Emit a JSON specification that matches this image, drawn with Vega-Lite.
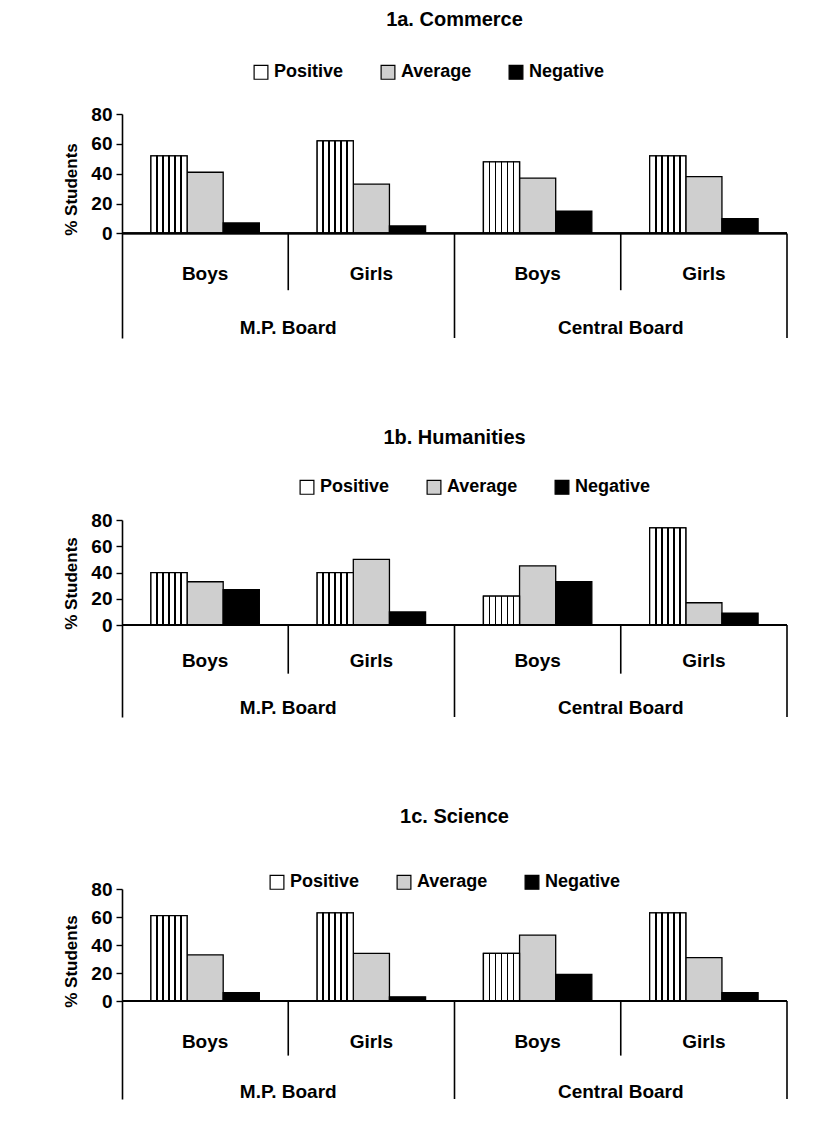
{
  "$schema": "https://vega.github.io/schema/vega-lite/v6.json",
  "background": "white",
  "padding": {"left": 62, "top": 10, "right": 10, "bottom": 5},
  "spacing": 89,
  "resolve": {"scale": {"fill": "independent"}, "legend": {"fill": "independent"}},
  "config": {
    "font": "Liberation Sans Narrow, Liberation Sans, Arial, sans-serif",
    "view": {"stroke": null},
    "axis": {
      "domainColor": "black", "domainWidth": 1.6, "tickColor": "black", "tickWidth": 1.4, "tickSize": 6,
      "labelFontSize": 19, "labelFontWeight": "bold", "labelColor": "black", "labelPadding": 4,
      "titleFontSize": 17, "titleFontWeight": "bold", "titleColor": "black", "titlePadding": 10, "grid": false
    },
    "legend": {
      "orient": "none", "direction": "horizontal", "symbolType": "square", "symbolSize": 190,
      "symbolStrokeColor": "black", "symbolStrokeWidth": 1.2, "labelFontSize": 18, "labelFontWeight": "bold",
      "labelColor": "black", "columnPadding": 34, "labelOffset": 4
    },
    "title": {"fontSize": 20, "fontWeight": "bold", "color": "black"},
    "text": {"fontSize": 19, "fontWeight": "bold", "color": "black"}
  },
  "datasets": {
    "bars": [
      {"subject": "Commerce", "group": "M.P. Board Boys", "category": "Positive", "value": 52},
      {"subject": "Commerce", "group": "M.P. Board Boys", "category": "Average", "value": 41},
      {"subject": "Commerce", "group": "M.P. Board Boys", "category": "Negative", "value": 7},
      {"subject": "Commerce", "group": "M.P. Board Girls", "category": "Positive", "value": 62},
      {"subject": "Commerce", "group": "M.P. Board Girls", "category": "Average", "value": 33},
      {"subject": "Commerce", "group": "M.P. Board Girls", "category": "Negative", "value": 5},
      {"subject": "Commerce", "group": "Central Board Boys", "category": "Positive", "value": 48},
      {"subject": "Commerce", "group": "Central Board Boys", "category": "Average", "value": 37},
      {"subject": "Commerce", "group": "Central Board Boys", "category": "Negative", "value": 15},
      {"subject": "Commerce", "group": "Central Board Girls", "category": "Positive", "value": 52},
      {"subject": "Commerce", "group": "Central Board Girls", "category": "Average", "value": 38},
      {"subject": "Commerce", "group": "Central Board Girls", "category": "Negative", "value": 10},
      {"subject": "Humanities", "group": "M.P. Board Boys", "category": "Positive", "value": 40},
      {"subject": "Humanities", "group": "M.P. Board Boys", "category": "Average", "value": 33},
      {"subject": "Humanities", "group": "M.P. Board Boys", "category": "Negative", "value": 27},
      {"subject": "Humanities", "group": "M.P. Board Girls", "category": "Positive", "value": 40},
      {"subject": "Humanities", "group": "M.P. Board Girls", "category": "Average", "value": 50},
      {"subject": "Humanities", "group": "M.P. Board Girls", "category": "Negative", "value": 10},
      {"subject": "Humanities", "group": "Central Board Boys", "category": "Positive", "value": 22},
      {"subject": "Humanities", "group": "Central Board Boys", "category": "Average", "value": 45},
      {"subject": "Humanities", "group": "Central Board Boys", "category": "Negative", "value": 33},
      {"subject": "Humanities", "group": "Central Board Girls", "category": "Positive", "value": 74},
      {"subject": "Humanities", "group": "Central Board Girls", "category": "Average", "value": 17},
      {"subject": "Humanities", "group": "Central Board Girls", "category": "Negative", "value": 9},
      {"subject": "Science", "group": "M.P. Board Boys", "category": "Positive", "value": 61},
      {"subject": "Science", "group": "M.P. Board Boys", "category": "Average", "value": 33},
      {"subject": "Science", "group": "M.P. Board Boys", "category": "Negative", "value": 6},
      {"subject": "Science", "group": "M.P. Board Girls", "category": "Positive", "value": 63},
      {"subject": "Science", "group": "M.P. Board Girls", "category": "Average", "value": 34},
      {"subject": "Science", "group": "M.P. Board Girls", "category": "Negative", "value": 3},
      {"subject": "Science", "group": "Central Board Boys", "category": "Positive", "value": 34},
      {"subject": "Science", "group": "Central Board Boys", "category": "Average", "value": 47},
      {"subject": "Science", "group": "Central Board Boys", "category": "Negative", "value": 19},
      {"subject": "Science", "group": "Central Board Girls", "category": "Positive", "value": 63},
      {"subject": "Science", "group": "Central Board Girls", "category": "Average", "value": 31},
      {"subject": "Science", "group": "Central Board Girls", "category": "Negative", "value": 6}
    ],
    "groups": [
      {"group": "M.P. Board Boys", "board": "M.P. Board", "gender": "Boys"},
      {"group": "M.P. Board Girls", "board": "M.P. Board", "gender": "Girls"},
      {"group": "Central Board Boys", "board": "Central Board", "gender": "Boys"},
      {"group": "Central Board Girls", "board": "Central Board", "gender": "Girls"}
    ]
  },
  "vconcat": [
    {
      "title": {"text": "1a. Commerce", "offset": 33},
      "width": 665, "height": 224,
      "data": {"name": "bars"},
      "transform": [{"filter": "datum.subject === 'Commerce'"}],
      "layer": [
        {
          "mark": {"type": "bar", "stroke": "black", "strokeWidth": 1.3},
          "encoding": {
            "x": {"field": "group", "type": "nominal", "sort": ["M.P. Board Boys", "M.P. Board Girls", "Central Board Boys", "Central Board Girls"], "scale": {"paddingInner": 0, "paddingOuter": 0}, "axis": null},
            "xOffset": {"field": "category", "type": "nominal", "scale": {"domain": ["Positive", "Average", "Negative"], "paddingOuter": 0.8, "paddingInner": 0}},
            "y": {"field": "value", "type": "quantitative", "scale": {"domain": [-70, 80], "nice": false}, "axis": {"values": [0, 20, 40, 60, 80], "title": "% Students", "titleY": 75}},
            "fill": {"field": "category", "type": "nominal", "scale": {"domain": ["Positive", "Average", "Negative"], "range": ["white", "#cfcfcf", "black"]}, "legend": {"title": null, "legendX": 130, "legendY": -51}}
          }
        },
        {
          "transform": [{"filter": "datum.category === 'Positive'"}],
          "mark": {"type": "bar", "stroke": "black", "strokeWidth": 1.3, "fill": {"gradient": "linear", "x1": 0, "y1": 0, "x2": 1, "y2": 0, "stops": [{"offset": 0, "color": "white"}, {"offset": 0.142, "color": "white"}, {"offset": 0.142, "color": "black"}, {"offset": 0.191, "color": "black"}, {"offset": 0.191, "color": "white"}, {"offset": 0.309, "color": "white"}, {"offset": 0.309, "color": "black"}, {"offset": 0.358, "color": "black"}, {"offset": 0.358, "color": "white"}, {"offset": 0.475, "color": "white"}, {"offset": 0.475, "color": "black"}, {"offset": 0.525, "color": "black"}, {"offset": 0.525, "color": "white"}, {"offset": 0.642, "color": "white"}, {"offset": 0.642, "color": "black"}, {"offset": 0.691, "color": "black"}, {"offset": 0.691, "color": "white"}, {"offset": 0.809, "color": "white"}, {"offset": 0.809, "color": "black"}, {"offset": 0.858, "color": "black"}, {"offset": 0.858, "color": "white"}, {"offset": 1, "color": "white"}]}},
          "encoding": {
            "x": {"field": "group", "type": "nominal", "sort": ["M.P. Board Boys", "M.P. Board Girls", "Central Board Boys", "Central Board Girls"]},
            "xOffset": {"field": "category", "type": "nominal"},
            "y": {"field": "value", "type": "quantitative"}
          }
        },
        {
          "data": {"name": "groups"},
          "mark": {"type": "rule", "color": "black", "strokeWidth": 1.8},
          "encoding": {"y": {"datum": 0, "type": "quantitative"}}
        },
        {
          "data": {"name": "groups"},
          "transform": [{"filter": "datum.gender === 'Girls'"}],
          "mark": {"type": "rule", "color": "black", "strokeWidth": 1.6},
          "encoding": {"x": {"field": "group", "type": "nominal", "sort": ["M.P. Board Boys", "M.P. Board Girls", "Central Board Boys", "Central Board Girls"], "bandPosition": 0}, "y": {"datum": 0, "type": "quantitative"}, "y2": {"datum": -38}}
        },
        {
          "data": {"name": "groups"},
          "transform": [{"filter": "datum.group === 'Central Board Boys'"}],
          "mark": {"type": "rule", "color": "black", "strokeWidth": 1.6},
          "encoding": {"x": {"field": "group", "type": "nominal", "sort": ["M.P. Board Boys", "M.P. Board Girls", "Central Board Boys", "Central Board Girls"], "bandPosition": 0}, "y": {"datum": 0, "type": "quantitative"}, "y2": {"datum": -70}}
        },
        {
          "data": {"name": "groups"},
          "transform": [{"filter": "datum.group === 'Central Board Girls'"}],
          "mark": {"type": "rule", "color": "black", "strokeWidth": 1.6},
          "encoding": {"x": {"field": "group", "type": "nominal", "sort": ["M.P. Board Boys", "M.P. Board Girls", "Central Board Boys", "Central Board Girls"], "bandPosition": 1}, "y": {"datum": 0, "type": "quantitative"}, "y2": {"datum": -70}}
        },
        {
          "data": {"name": "groups"},
          "mark": {"type": "text", "baseline": "middle"},
          "encoding": {"x": {"field": "group", "type": "nominal", "sort": ["M.P. Board Boys", "M.P. Board Girls", "Central Board Boys", "Central Board Girls"]}, "y": {"datum": -27, "type": "quantitative"}, "text": {"field": "gender"}}
        },
        {
          "data": {"name": "groups"},
          "transform": [{"filter": "datum.gender === 'Girls'"}],
          "mark": {"type": "text", "baseline": "middle"},
          "encoding": {"x": {"field": "group", "type": "nominal", "sort": ["M.P. Board Boys", "M.P. Board Girls", "Central Board Boys", "Central Board Girls"], "bandPosition": 0}, "y": {"datum": -63, "type": "quantitative"}, "text": {"field": "board"}}
        }
      ]
    },
    {
      "title": {"text": "1b. Humanities", "offset": 30},
      "width": 665, "height": 197,
      "data": {"name": "bars"},
      "transform": [{"filter": "datum.subject === 'Humanities'"}],
      "layer": [
        {
          "mark": {"type": "bar", "stroke": "black", "strokeWidth": 1.3},
          "encoding": {
            "x": {"field": "group", "type": "nominal", "sort": ["M.P. Board Boys", "M.P. Board Girls", "Central Board Boys", "Central Board Girls"], "scale": {"paddingInner": 0, "paddingOuter": 0}, "axis": null},
            "xOffset": {"field": "category", "type": "nominal", "scale": {"domain": ["Positive", "Average", "Negative"], "paddingOuter": 0.8, "paddingInner": 0}},
            "y": {"field": "value", "type": "quantitative", "scale": {"domain": [-70, 80], "nice": false}, "axis": {"values": [0, 20, 40, 60, 80], "title": "% Students", "titleY": 63}},
            "fill": {"field": "category", "type": "nominal", "scale": {"domain": ["Positive", "Average", "Negative"], "range": ["white", "#cfcfcf", "black"]}, "legend": {"title": null, "legendX": 176, "legendY": -42}}
          }
        },
        {
          "transform": [{"filter": "datum.category === 'Positive'"}],
          "mark": {"type": "bar", "stroke": "black", "strokeWidth": 1.3, "fill": {"gradient": "linear", "x1": 0, "y1": 0, "x2": 1, "y2": 0, "stops": [{"offset": 0, "color": "white"}, {"offset": 0.142, "color": "white"}, {"offset": 0.142, "color": "black"}, {"offset": 0.191, "color": "black"}, {"offset": 0.191, "color": "white"}, {"offset": 0.309, "color": "white"}, {"offset": 0.309, "color": "black"}, {"offset": 0.358, "color": "black"}, {"offset": 0.358, "color": "white"}, {"offset": 0.475, "color": "white"}, {"offset": 0.475, "color": "black"}, {"offset": 0.525, "color": "black"}, {"offset": 0.525, "color": "white"}, {"offset": 0.642, "color": "white"}, {"offset": 0.642, "color": "black"}, {"offset": 0.691, "color": "black"}, {"offset": 0.691, "color": "white"}, {"offset": 0.809, "color": "white"}, {"offset": 0.809, "color": "black"}, {"offset": 0.858, "color": "black"}, {"offset": 0.858, "color": "white"}, {"offset": 1, "color": "white"}]}},
          "encoding": {
            "x": {"field": "group", "type": "nominal", "sort": ["M.P. Board Boys", "M.P. Board Girls", "Central Board Boys", "Central Board Girls"]},
            "xOffset": {"field": "category", "type": "nominal"},
            "y": {"field": "value", "type": "quantitative"}
          }
        },
        {
          "data": {"name": "groups"},
          "mark": {"type": "rule", "color": "black", "strokeWidth": 1.8},
          "encoding": {"y": {"datum": 0, "type": "quantitative"}}
        },
        {
          "data": {"name": "groups"},
          "transform": [{"filter": "datum.gender === 'Girls'"}],
          "mark": {"type": "rule", "color": "black", "strokeWidth": 1.6},
          "encoding": {"x": {"field": "group", "type": "nominal", "sort": ["M.P. Board Boys", "M.P. Board Girls", "Central Board Boys", "Central Board Girls"], "bandPosition": 0}, "y": {"datum": 0, "type": "quantitative"}, "y2": {"datum": -37}}
        },
        {
          "data": {"name": "groups"},
          "transform": [{"filter": "datum.group === 'Central Board Boys'"}],
          "mark": {"type": "rule", "color": "black", "strokeWidth": 1.6},
          "encoding": {"x": {"field": "group", "type": "nominal", "sort": ["M.P. Board Boys", "M.P. Board Girls", "Central Board Boys", "Central Board Girls"], "bandPosition": 0}, "y": {"datum": 0, "type": "quantitative"}, "y2": {"datum": -70}}
        },
        {
          "data": {"name": "groups"},
          "transform": [{"filter": "datum.group === 'Central Board Girls'"}],
          "mark": {"type": "rule", "color": "black", "strokeWidth": 1.6},
          "encoding": {"x": {"field": "group", "type": "nominal", "sort": ["M.P. Board Boys", "M.P. Board Girls", "Central Board Boys", "Central Board Girls"], "bandPosition": 1}, "y": {"datum": 0, "type": "quantitative"}, "y2": {"datum": -70}}
        },
        {
          "data": {"name": "groups"},
          "mark": {"type": "text", "baseline": "middle"},
          "encoding": {"x": {"field": "group", "type": "nominal", "sort": ["M.P. Board Boys", "M.P. Board Girls", "Central Board Boys", "Central Board Girls"]}, "y": {"datum": -27, "type": "quantitative"}, "text": {"field": "gender"}}
        },
        {
          "data": {"name": "groups"},
          "transform": [{"filter": "datum.gender === 'Girls'"}],
          "mark": {"type": "text", "baseline": "middle"},
          "encoding": {"x": {"field": "group", "type": "nominal", "sort": ["M.P. Board Boys", "M.P. Board Girls", "Central Board Boys", "Central Board Girls"], "bandPosition": 0}, "y": {"datum": -63, "type": "quantitative"}, "text": {"field": "board"}}
        }
      ]
    },
    {
      "title": {"text": "1c. Science", "offset": 46},
      "width": 665, "height": 210,
      "data": {"name": "bars"},
      "transform": [{"filter": "datum.subject === 'Science'"}],
      "layer": [
        {
          "mark": {"type": "bar", "stroke": "black", "strokeWidth": 1.3},
          "encoding": {
            "x": {"field": "group", "type": "nominal", "sort": ["M.P. Board Boys", "M.P. Board Girls", "Central Board Boys", "Central Board Girls"], "scale": {"paddingInner": 0, "paddingOuter": 0}, "axis": null},
            "xOffset": {"field": "category", "type": "nominal", "scale": {"domain": ["Positive", "Average", "Negative"], "paddingOuter": 0.8, "paddingInner": 0}},
            "y": {"field": "value", "type": "quantitative", "scale": {"domain": [-70, 80], "nice": false}, "axis": {"values": [0, 20, 40, 60, 80], "title": "% Students", "titleY": 72}},
            "fill": {"field": "category", "type": "nominal", "scale": {"domain": ["Positive", "Average", "Negative"], "range": ["white", "#cfcfcf", "black"]}, "legend": {"title": null, "legendX": 146, "legendY": -16}}
          }
        },
        {
          "transform": [{"filter": "datum.category === 'Positive'"}],
          "mark": {"type": "bar", "stroke": "black", "strokeWidth": 1.3, "fill": {"gradient": "linear", "x1": 0, "y1": 0, "x2": 1, "y2": 0, "stops": [{"offset": 0, "color": "white"}, {"offset": 0.142, "color": "white"}, {"offset": 0.142, "color": "black"}, {"offset": 0.191, "color": "black"}, {"offset": 0.191, "color": "white"}, {"offset": 0.309, "color": "white"}, {"offset": 0.309, "color": "black"}, {"offset": 0.358, "color": "black"}, {"offset": 0.358, "color": "white"}, {"offset": 0.475, "color": "white"}, {"offset": 0.475, "color": "black"}, {"offset": 0.525, "color": "black"}, {"offset": 0.525, "color": "white"}, {"offset": 0.642, "color": "white"}, {"offset": 0.642, "color": "black"}, {"offset": 0.691, "color": "black"}, {"offset": 0.691, "color": "white"}, {"offset": 0.809, "color": "white"}, {"offset": 0.809, "color": "black"}, {"offset": 0.858, "color": "black"}, {"offset": 0.858, "color": "white"}, {"offset": 1, "color": "white"}]}},
          "encoding": {
            "x": {"field": "group", "type": "nominal", "sort": ["M.P. Board Boys", "M.P. Board Girls", "Central Board Boys", "Central Board Girls"]},
            "xOffset": {"field": "category", "type": "nominal"},
            "y": {"field": "value", "type": "quantitative"}
          }
        },
        {
          "data": {"name": "groups"},
          "mark": {"type": "rule", "color": "black", "strokeWidth": 1.8},
          "encoding": {"y": {"datum": 0, "type": "quantitative"}}
        },
        {
          "data": {"name": "groups"},
          "transform": [{"filter": "datum.gender === 'Girls'"}],
          "mark": {"type": "rule", "color": "black", "strokeWidth": 1.6},
          "encoding": {"x": {"field": "group", "type": "nominal", "sort": ["M.P. Board Boys", "M.P. Board Girls", "Central Board Boys", "Central Board Girls"], "bandPosition": 0}, "y": {"datum": 0, "type": "quantitative"}, "y2": {"datum": -39}}
        },
        {
          "data": {"name": "groups"},
          "transform": [{"filter": "datum.group === 'Central Board Boys'"}],
          "mark": {"type": "rule", "color": "black", "strokeWidth": 1.6},
          "encoding": {"x": {"field": "group", "type": "nominal", "sort": ["M.P. Board Boys", "M.P. Board Girls", "Central Board Boys", "Central Board Girls"], "bandPosition": 0}, "y": {"datum": 0, "type": "quantitative"}, "y2": {"datum": -70}}
        },
        {
          "data": {"name": "groups"},
          "transform": [{"filter": "datum.group === 'Central Board Girls'"}],
          "mark": {"type": "rule", "color": "black", "strokeWidth": 1.6},
          "encoding": {"x": {"field": "group", "type": "nominal", "sort": ["M.P. Board Boys", "M.P. Board Girls", "Central Board Boys", "Central Board Girls"], "bandPosition": 1}, "y": {"datum": 0, "type": "quantitative"}, "y2": {"datum": -70}}
        },
        {
          "data": {"name": "groups"},
          "mark": {"type": "text", "baseline": "middle"},
          "encoding": {"x": {"field": "group", "type": "nominal", "sort": ["M.P. Board Boys", "M.P. Board Girls", "Central Board Boys", "Central Board Girls"]}, "y": {"datum": -29, "type": "quantitative"}, "text": {"field": "gender"}}
        },
        {
          "data": {"name": "groups"},
          "transform": [{"filter": "datum.gender === 'Girls'"}],
          "mark": {"type": "text", "baseline": "middle"},
          "encoding": {"x": {"field": "group", "type": "nominal", "sort": ["M.P. Board Boys", "M.P. Board Girls", "Central Board Boys", "Central Board Girls"], "bandPosition": 0}, "y": {"datum": -65, "type": "quantitative"}, "text": {"field": "board"}}
        }
      ]
    }
  ]
}
